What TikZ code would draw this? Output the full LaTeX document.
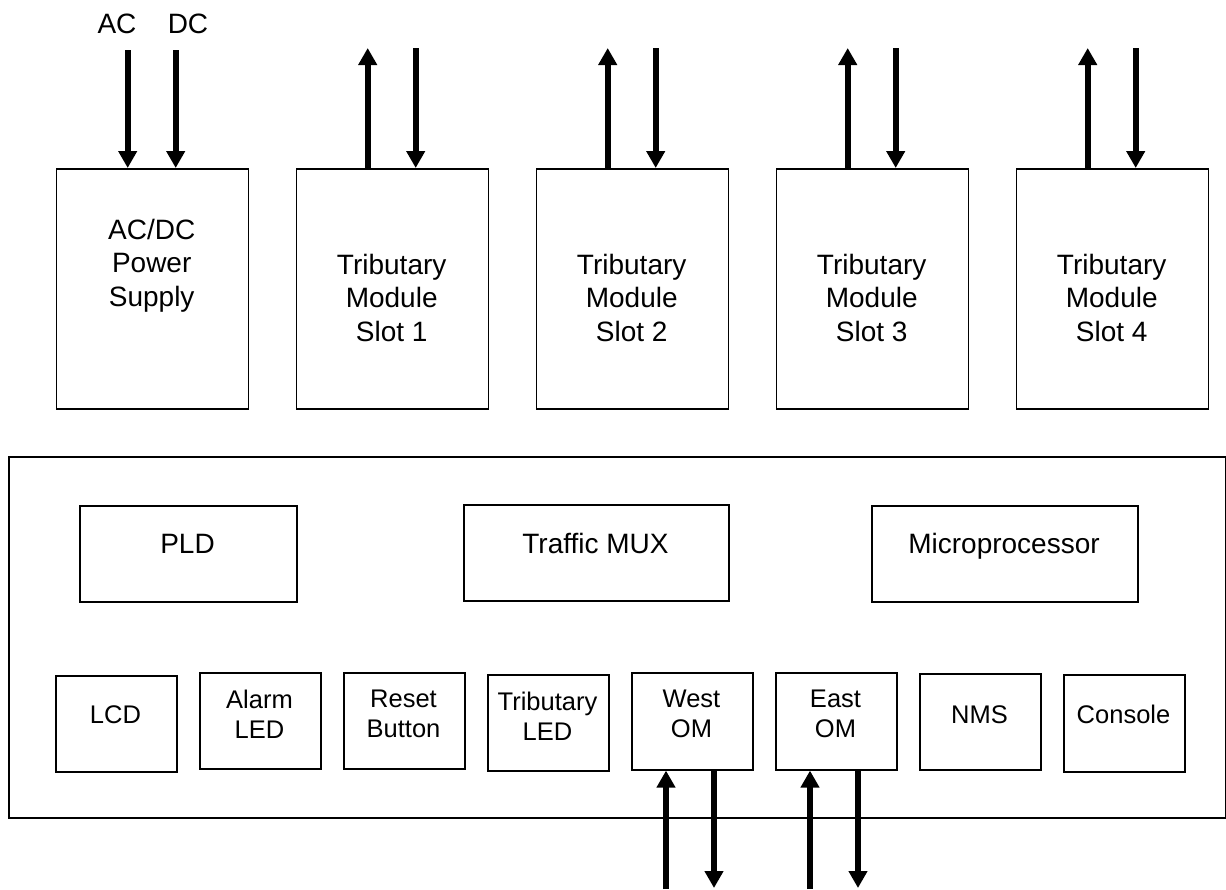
\documentclass[tikz,border=0pt]{standalone}
\usepackage{fontspec}
\setmainfont{Liberation Sans}
\usetikzlibrary{arrows.meta}
\begin{document}
\begin{tikzpicture}[x=1pt,y=-1pt,
  box/.style={draw, line width=1.6pt, inner sep=0pt, anchor=north west},
  topbox/.style={box, minimum width=192pt, minimum height=240pt},
  midbox/.style={box, minimum height=96pt},
  botbox/.style={box, minimum width=121pt, minimum height=96pt},
  bigtxt/.style={font=\fontsize{28}{33.5}\selectfont, align=center, inner sep=0pt},
  smalltxt/.style={font=\fontsize{25.5}{30}\selectfont, align=center, inner sep=0pt},
  arr/.style={line width=6pt, -{Triangle[width=18pt,length=17pt]}}]
\useasboundingbox (0,0) rectangle (1226,889);

% top row
\node[topbox] (ps) at (55.7,168) {};
\node[topbox] (t1) at (295.7,168) {};
\node[topbox] (t2) at (535.7,168) {};
\node[topbox] (t3) at (775.7,168) {};
\node[topbox] (t4) at (1015.7,168) {};
\node[bigtxt] (pst) at (151.7,265.5) {AC/DC\\Power\\Supply};
\node[bigtxt] (t1t) at (391.7,297.5) {Tributary\\Module\\Slot 1};
\node[bigtxt] (t2t) at (631.7,297.5) {Tributary\\Module\\Slot 2};
\node[bigtxt] (t3t) at (871.7,297.5) {Tributary\\Module\\Slot 3};
\node[bigtxt] (t4t) at (1111.7,297.5) {Tributary\\Module\\Slot 4};

% AC / DC inputs
\node[bigtxt, anchor=base] (aclbl) at (117,33.3) {AC};
\node[bigtxt, anchor=base] (dclbl) at (188,33.3) {DC};
\coordinate (acin) at (127.7,50);
\coordinate (dcin) at (175.7,50);
\draw[arr] (acin) -- (acin |- ps.north);
\draw[arr] (dcin) -- (dcin |- ps.north);

% tributary arrows
\foreach \n/\x in {t1/367.7, t2/607.7, t3/847.7, t4/1087.7}{
  \coordinate (\n up) at (\x,48);
  \coordinate (\n dn) at (\x+48,48);
  \draw[arr] (\n up |- \n.north) -- (\n up);
  \draw[arr] (\n dn) -- (\n dn |- \n.north);
}

% board
\node[box, minimum width=1217pt, minimum height=361pt] (board) at (8,456) {};

% middle row
\node[midbox, minimum width=217pt] (pld) at (79,505) {};
\node[midbox, minimum width=265pt] (mux) at (463,504) {};
\node[midbox, minimum width=266pt] (cpu) at (871,505) {};
\node[bigtxt, anchor=base] (pldt) at (187.5,553.5) {PLD};
\node[bigtxt, anchor=base] (muxt) at (595.5,553.5) {Traffic MUX};
\node[bigtxt, anchor=base] (cput) at (1004,553.5) {Microprocessor};

% bottom row
\node[botbox] (lcd) at (55,675) {};
\node[botbox] (alarm) at (199,672) {};
\node[botbox] (reset) at (343,672) {};
\node[botbox] (tled) at (487,674) {};
\node[botbox, minimum height=97pt] (west) at (631,672) {};
\node[botbox, minimum height=97pt] (east) at (775,672) {};
\node[botbox] (nms) at (919,673) {};
\node[botbox, minimum height=97pt] (console) at (1063,674) {};
\node[smalltxt, anchor=base] (lcdt) at (115.5,723) {LCD};
\node[smalltxt] (alarmt) at (259.5,714) {Alarm\\LED};
\node[smalltxt] (resett) at (403.5,714) {Reset\\Button};
\node[smalltxt] (tledt) at (547.5,716) {Tributary\\LED};
\node[smalltxt] (westt) at (691.5,714) {West\\OM};
\node[smalltxt] (eastt) at (835.5,714) {East\\OM};
\node[smalltxt, anchor=base] (nmst) at (979.5,723) {NMS};
\node[smalltxt, anchor=base] (consolet) at (1123.5,723) {Console};

% OM arrows
\coordinate (wup) at (666,889);
\coordinate (wdn) at (714,888);
\coordinate (eup) at (810,889);
\coordinate (edn) at (858,888);
\draw[arr] (wup) -- (wup |- west.south);
\draw[arr] (wdn |- west.south) -- (wdn);
\draw[arr] (eup) -- (eup |- east.south);
\draw[arr] (edn |- east.south) -- (edn);
\end{tikzpicture}
\end{document}
